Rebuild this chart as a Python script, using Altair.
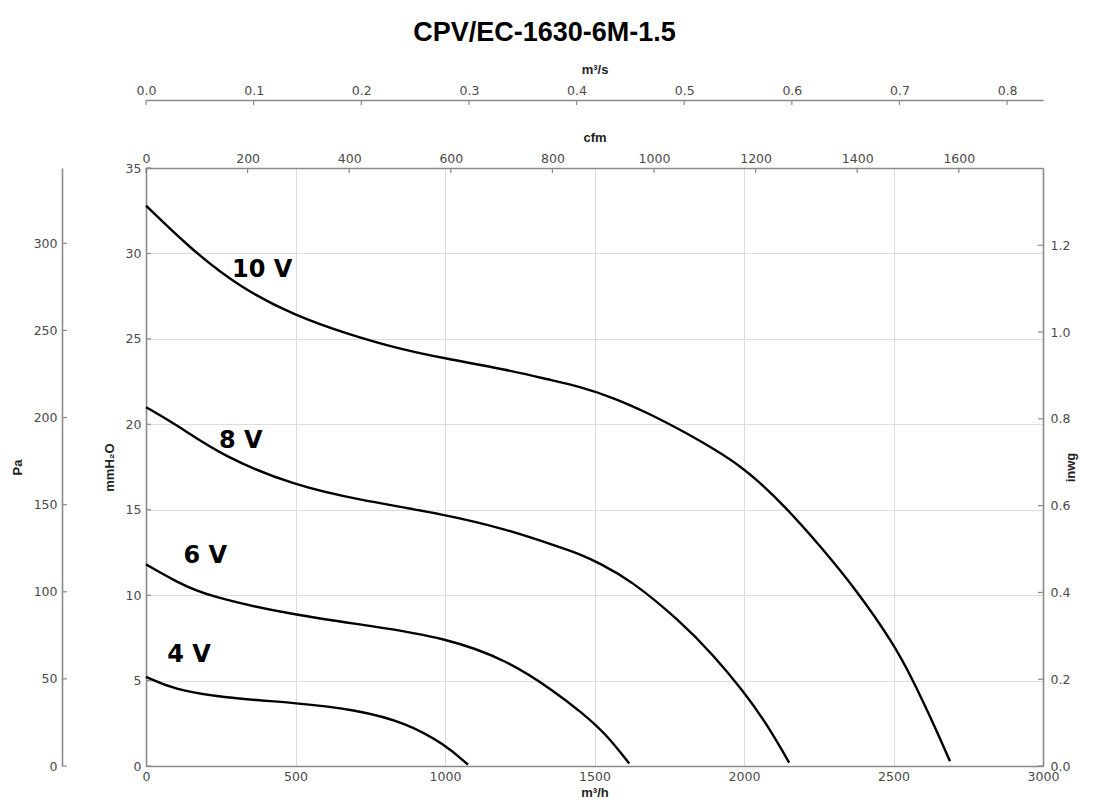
import altair as alt
import pandas as pd

TITLE = "CPV/EC-1630-6M-1.5"

# Fan curves: airflow (m3/h) and static pressure (mmH2O)
flow_10v = [0, 147, 314, 500, 671, 849, 1000, 1206, 1351, 1452, 1563, 1674, 1786, 1997, 2142, 2254, 2376, 2499, 2566, 2633, 2689]
press_10v = [32.8, 30.3, 28.0, 26.35, 25.3, 24.4, 23.85, 23.2, 22.6, 22.2, 21.56, 20.7, 19.7, 17.6, 15.1, 12.9, 10.3, 7.2, 5.0, 2.5, 0.28]

flow_8v = [0, 100, 258, 500, 704, 1000, 1206, 1373, 1452, 1518, 1619, 1786, 1897, 1997, 2075, 2151]
press_8v = [21.0, 20.0, 18.1, 16.4, 15.6, 14.73, 13.85, 12.87, 12.4, 11.86, 10.9, 8.5, 6.5, 4.4, 2.5, 0.2]

flow_6v = [0, 100, 203, 500, 763, 1000, 1206, 1373, 1452, 1535, 1616]
press_6v = [11.8, 10.8, 9.94, 8.81, 8.18, 7.5, 6.23, 4.28, 3.2, 1.95, 0.15]

flow_4v = [0, 91, 258, 500, 704, 872, 1000, 1077]
press_4v = [5.22, 4.49, 3.99, 3.7, 3.3, 2.52, 1.25, 0.08]

series_names = ["10 V", "8 V", "6 V", "4 V"]
label_x = [288, 244, 125, 71]
label_y = [28.6, 18.6, 11.86, 6.1]

# Tick values of every axis
ticks_m3h = [0, 500, 1000, 1500, 2000, 2500, 3000]
ticks_mm = [0, 5, 10, 15, 20, 25, 30, 35]
ticks_pa = [0, 50, 100, 150, 200, 250, 300]
ticks_inwg = [0.0, 0.2, 0.4, 0.6, 0.8, 1.0, 1.2]
ticks_cfm = [0, 200, 400, 600, 800, 1000, 1200, 1400, 1600]
ticks_m3s = [0.0, 0.1, 0.2, 0.3, 0.4, 0.5, 0.6, 0.7, 0.8]

Q_MAX = 3000
P_MAX = 35
CFM_MAX = Q_MAX / 1.69901
M3S_MAX = Q_MAX / 3600
PA_MAX = P_MAX * 9.80665
INWG_MAX = P_MAX / 25.4

W, H = 897, 598

rows = []
for name, qs, ps in zip(series_names,
                        [flow_10v, flow_8v, flow_6v, flow_4v],
                        [press_10v, press_8v, press_6v, press_4v]):
    for q, p in zip(qs, ps):
        rows.append({"series": name, "q": q, "v": p})
curves = pd.DataFrame(rows)
labels = pd.DataFrame({"label": series_names, "q": label_x, "v": label_y})

AX = dict(domainColor="#8a8a8a", domainWidth=1.6, labelColor="#4a4a4a",
          labelFont="DejaVu Sans", labelFontSize=12.5, ticks=False,
          titleFont="Liberation Sans", titleFontWeight="bold",
          titleFontSize=13, titleColor="#222222", labelFlush=False,
          labelOverlap=False)
TICK_COLOR = "#8a8a8a"

xs = alt.Scale(domain=[0, Q_MAX], nice=False, zero=False)
ys = alt.Scale(domain=[0, P_MAX], nice=False, zero=False)

lines = alt.Chart(curves).mark_line(color="black", strokeWidth=2.4, interpolate="basis").encode(
    x=alt.X("q:Q", scale=xs, axis=alt.Axis(values=ticks_m3h, format="d", title="m³/h", grid=True,
                                          gridColor="#dcdcdc", gridWidth=1, labelPadding=4,
                                          titlePadding=4, **AX)),
    y=alt.Y("v:Q", scale=ys, axis=alt.Axis(values=ticks_mm, format="d", title="mmH₂O", grid=True,
                                          gridColor="#dcdcdc", gridWidth=1, labelPadding=5,
                                          titlePadding=9, **AX)),
    detail="series:N",
)

text = alt.Chart(labels).mark_text(align="left", baseline="alphabetic", font="DejaVu Sans",
                                   fontWeight="bold", fontSize=24, color="black").encode(
    x=alt.X("q:Q", scale=xs), y=alt.Y("v:Q", scale=ys), text="label:N")

mm_ticks = alt.Chart(pd.DataFrame({"v": ticks_mm})).mark_rule(color=TICK_COLOR, strokeWidth=1.2).encode(
    y=alt.Y("v:Q", scale=ys), x=alt.value(0), x2=alt.value(5))

inner = alt.layer(lines, text, mm_ticks)

inwg = alt.Chart(pd.DataFrame({"inwg": ticks_inwg})).mark_rule(color=TICK_COLOR, strokeWidth=1.2).encode(
    y=alt.Y("inwg:Q", scale=alt.Scale(domain=[0, INWG_MAX], nice=False, zero=False),
            axis=alt.Axis(orient="right", values=ticks_inwg, format=".1f", title="inwg",
                          titleAngle=270, labelPadding=7, titlePadding=8, **AX)),
    x=alt.value(W - 5), x2=alt.value(W))

pa = alt.Chart(pd.DataFrame({"pa": ticks_pa})).mark_rule(color=TICK_COLOR, strokeWidth=1.2).encode(
    y=alt.Y("pa:Q", scale=alt.Scale(domain=[0, PA_MAX], nice=False, zero=False),
            axis=alt.Axis(orient="left", offset=84, values=ticks_pa, format="d", title="Pa",
                          labelPadding=5, titlePadding=9, **AX)),
    x=alt.value(-84), x2=alt.value(-79))

cfm = alt.Chart(pd.DataFrame({"cfm": ticks_cfm})).mark_rule(color=TICK_COLOR, strokeWidth=1.2).encode(
    x=alt.X("cfm:Q", scale=alt.Scale(domain=[0, CFM_MAX], nice=False, zero=False),
            axis=alt.Axis(orient="top", values=ticks_cfm, format="d", title="cfm",
                          labelPadding=3, titlePadding=8, **AX)),
    y=alt.value(0), y2=alt.value(5))

m3s = alt.Chart(pd.DataFrame({"m3s": ticks_m3s})).mark_rule(color=TICK_COLOR, strokeWidth=1.2).encode(
    x=alt.X("m3s:Q", scale=alt.Scale(domain=[0, M3S_MAX], nice=False, zero=False),
            axis=alt.Axis(orient="top", offset=68, values=ticks_m3s, format=".1f", title="m³/s",
                          labelPadding=3, titlePadding=8, **AX)),
    y=alt.value(-68), y2=alt.value(-63))

chart = alt.layer(inner, inwg, pa, cfm, m3s).resolve_scale(
    x="independent", y="independent"
).properties(
    width=W, height=H,
    title=alt.TitleParams(TITLE, font="Liberation Sans", fontSize=27, fontWeight="bold",
                          color="black", anchor="middle", frame="bounds", offset=16),
    padding={"left": 138, "top": 160, "right": 43, "bottom": 38},
    autosize=alt.AutoSizeParams(type="none"),
).configure_view(stroke=None).configure(background="white")

chart.save("out.html", embed_options={"renderer": "svg", "actions": False})
